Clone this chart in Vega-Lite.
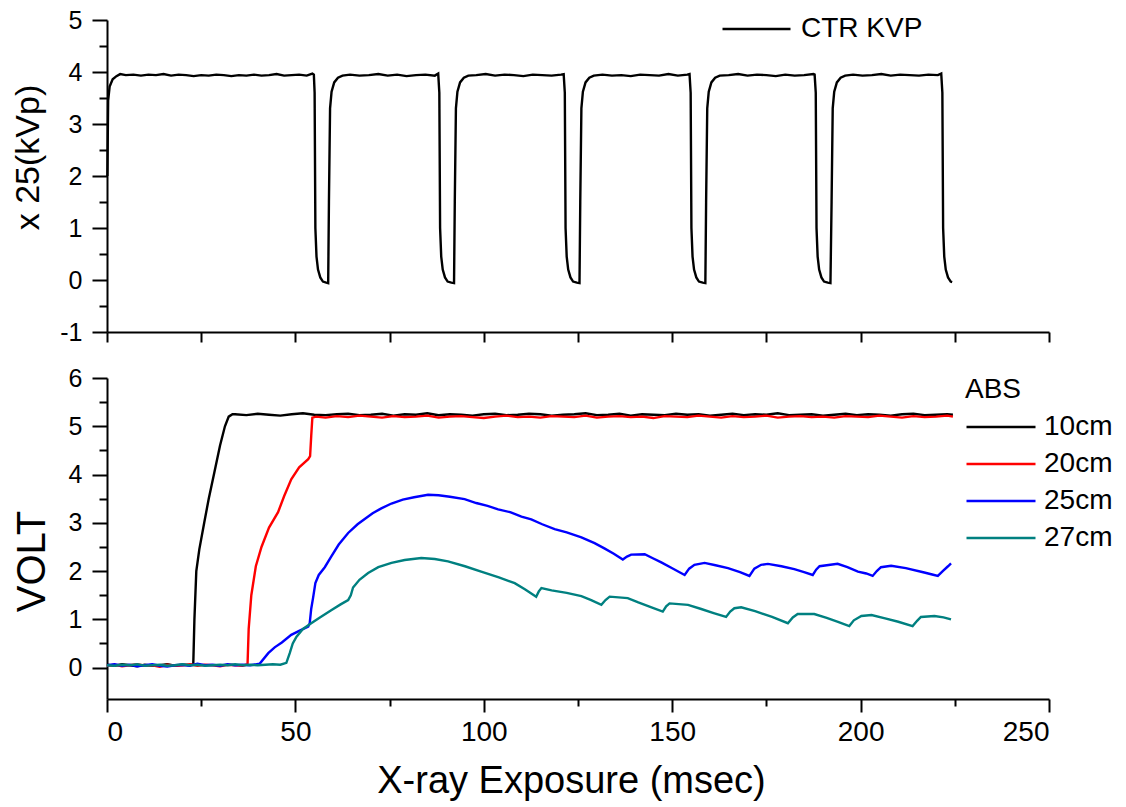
{
"$schema": "https://vega.github.io/schema/vega-lite/v6.json",
"background": "white",
"padding": {"left": 10, "top": 8, "right": 5, "bottom": 5},
"spacing": 46,
"bounds": "flush",
"config": {"view": {"stroke": null}, "font": "Liberation Sans",
 "axis": {"grid": false, "domainColor": "black", "domainWidth": 2, "tickColor": "black", "tickWidth": 2, "labelColor": "black", "labelFont": "Liberation Sans", "titleFont": "Liberation Sans", "titleFontWeight": "normal", "titleColor": "black"},
 "legend": {"labelFont": "Liberation Sans", "titleFont": "Liberation Sans", "labelColor": "black", "titleColor": "black", "titleFontWeight": "normal"}},
"resolve": {"scale": {"color": "independent"}, "legend": {"color": "independent"}},
"datasets": {
"kvp": [
{"t":0.1,"v":2.0},{"t":0.3,"v":3.45},{"t":0.7,"v":3.72},{"t":1.5,"v":3.86},{"t":2.5,"v":3.92},{"t":3.5,"v":3.96},{"t":5,"v":3.94},{"t":7,"v":3.95},{"t":9,"v":3.93},{"t":11,"v":3.95},{"t":13,"v":3.94},{"t":15,"v":3.96},{"t":17,"v":3.93},{"t":19,"v":3.95},{"t":21,"v":3.94},{"t":23,"v":3.92},{"t":25,"v":3.94},{"t":27,"v":3.93},{"t":29,"v":3.95},{"t":31,"v":3.94},{"t":33,"v":3.92},{"t":35,"v":3.94},{"t":37,"v":3.93},{"t":39,"v":3.95},{"t":41,"v":3.93},{"t":43,"v":3.94},{"t":45,"v":3.96},{"t":47,"v":3.93},{"t":49,"v":3.94},{"t":51,"v":3.95},{"t":53,"v":3.93},{"t":54.5,"v":3.97},{"t":54.9,"v":3.95},
{"t":55.1,"v":3.6},{"t":55.3,"v":1.0},{"t":55.6,"v":0.45},{"t":56.0,"v":0.2},{"t":56.6,"v":0.05},{"t":57.3,"v":-0.03},{"t":58.2,"v":-0.05},{"t":58.7,"v":-0.06},
{"t":58.9,"v":1.5},{"t":59.2,"v":3.3},{"t":59.6,"v":3.62},{"t":60.3,"v":3.8},{"t":61.3,"v":3.89},{"t":62.5,"v":3.93},
{"t":64.5,"v":3.95},{"t":67,"v":3.93},{"t":69.5,"v":3.94},{"t":72,"v":3.96},{"t":74.5,"v":3.93},{"t":77,"v":3.95},{"t":79.5,"v":3.92},{"t":82,"v":3.94},{"t":84.5,"v":3.95},{"t":87,"v":3.93},{"t":87.9,"v":3.97},
{"t":88.2,"v":3.6},{"t":88.4,"v":1.0},{"t":88.7,"v":0.45},{"t":89.1,"v":0.2},{"t":89.7,"v":0.05},{"t":90.4,"v":-0.03},{"t":91.4,"v":-0.05},{"t":92.1,"v":-0.06},
{"t":92.3,"v":1.5},{"t":92.6,"v":3.3},{"t":93.0,"v":3.62},{"t":93.7,"v":3.8},{"t":94.7,"v":3.89},{"t":95.9,"v":3.93},
{"t":98,"v":3.94},{"t":100.5,"v":3.96},{"t":103,"v":3.93},{"t":105.5,"v":3.95},{"t":108,"v":3.94},{"t":110.5,"v":3.92},{"t":113,"v":3.95},{"t":115.5,"v":3.94},{"t":118,"v":3.93},{"t":120.5,"v":3.95},{"t":121.2,"v":3.96},
{"t":121.5,"v":3.6},{"t":121.7,"v":1.0},{"t":122.0,"v":0.45},{"t":122.4,"v":0.2},{"t":123.0,"v":0.05},{"t":123.7,"v":-0.03},{"t":124.7,"v":-0.05},{"t":125.4,"v":-0.06},
{"t":125.6,"v":1.5},{"t":125.9,"v":3.3},{"t":126.3,"v":3.62},{"t":127.0,"v":3.8},{"t":128.0,"v":3.89},{"t":129.2,"v":3.93},
{"t":131.5,"v":3.95},{"t":134,"v":3.93},{"t":136.5,"v":3.94},{"t":139,"v":3.92},{"t":141.5,"v":3.95},{"t":144,"v":3.94},{"t":146.5,"v":3.93},{"t":149,"v":3.96},{"t":151.5,"v":3.93},{"t":154,"v":3.95},{"t":154.6,"v":3.96},
{"t":154.9,"v":3.6},{"t":155.1,"v":1.0},{"t":155.4,"v":0.45},{"t":155.8,"v":0.2},{"t":156.4,"v":0.05},{"t":157.1,"v":-0.03},{"t":158.1,"v":-0.05},{"t":158.8,"v":-0.06},
{"t":159.0,"v":1.5},{"t":159.3,"v":3.3},{"t":159.7,"v":3.62},{"t":160.4,"v":3.8},{"t":161.4,"v":3.89},{"t":162.6,"v":3.93},
{"t":165,"v":3.94},{"t":167.5,"v":3.96},{"t":170,"v":3.93},{"t":172.5,"v":3.95},{"t":175,"v":3.94},{"t":177.5,"v":3.92},{"t":180,"v":3.95},{"t":182.5,"v":3.93},{"t":185,"v":3.94},{"t":187.5,"v":3.96},{"t":187.8,"v":3.95},
{"t":188.1,"v":3.6},{"t":188.3,"v":1.0},{"t":188.6,"v":0.45},{"t":189.0,"v":0.2},{"t":189.6,"v":0.05},{"t":190.3,"v":-0.03},{"t":191.3,"v":-0.05},{"t":192.0,"v":-0.06},
{"t":192.3,"v":1.5},{"t":192.6,"v":3.3},{"t":193.0,"v":3.62},{"t":193.7,"v":3.8},{"t":194.7,"v":3.89},{"t":195.9,"v":3.93},
{"t":198,"v":3.95},{"t":200.5,"v":3.93},{"t":203,"v":3.94},{"t":205.5,"v":3.96},{"t":208,"v":3.93},{"t":210.5,"v":3.95},{"t":213,"v":3.94},{"t":215.5,"v":3.93},{"t":218,"v":3.95},{"t":220.5,"v":3.94},{"t":221.4,"v":3.97},
{"t":221.7,"v":3.6},{"t":221.9,"v":1.0},{"t":222.2,"v":0.45},{"t":222.6,"v":0.2},{"t":223.2,"v":0.05},{"t":223.9,"v":-0.03},{"t":224.3,"v":-0.04}
],
"volt": [
{"c":"10cm","t":0,"v":0.06},{"c":"10cm","t":2,"v":0.04},{"c":"10cm","t":4,"v":0.07},{"c":"10cm","t":6,"v":0.05},{"c":"10cm","t":8,"v":0.03},{"c":"10cm","t":10,"v":0.06},{"c":"10cm","t":12,"v":0.04},{"c":"10cm","t":14,"v":0.05},{"c":"10cm","t":16,"v":0.07},{"c":"10cm","t":18,"v":0.04},{"c":"10cm","t":20,"v":0.06},{"c":"10cm","t":22,"v":0.05},{"c":"10cm","t":22.9,"v":0.08},{"c":"10cm","t":23.2,"v":1.0},{"c":"10cm","t":23.7,"v":2.0},{"c":"10cm","t":24.5,"v":2.45},{"c":"10cm","t":25.8,"v":3.0},{"c":"10cm","t":27.0,"v":3.5},{"c":"10cm","t":28.5,"v":4.05},{"c":"10cm","t":30.0,"v":4.6},{"c":"10cm","t":31.3,"v":5.0},{"c":"10cm","t":32.3,"v":5.2},{"c":"10cm","t":33.3,"v":5.25},
{"c":"10cm","t":34,"v":5.25},{"c":"10cm","t":37,"v":5.23},{"c":"10cm","t":40,"v":5.26},{"c":"10cm","t":43,"v":5.24},{"c":"10cm","t":46,"v":5.22},{"c":"10cm","t":49,"v":5.25},{"c":"10cm","t":52,"v":5.27},{"c":"10cm","t":55,"v":5.24},{"c":"10cm","t":58,"v":5.23},{"c":"10cm","t":61,"v":5.25},{"c":"10cm","t":64,"v":5.26},{"c":"10cm","t":67,"v":5.23},{"c":"10cm","t":70,"v":5.24},{"c":"10cm","t":73,"v":5.26},{"c":"10cm","t":76,"v":5.22},{"c":"10cm","t":79,"v":5.25},{"c":"10cm","t":82,"v":5.24},{"c":"10cm","t":85,"v":5.27},{"c":"10cm","t":88,"v":5.23},{"c":"10cm","t":91,"v":5.25},{"c":"10cm","t":94,"v":5.24},{"c":"10cm","t":97,"v":5.22},{"c":"10cm","t":100,"v":5.25},{"c":"10cm","t":103,"v":5.26},{"c":"10cm","t":106,"v":5.23},{"c":"10cm","t":109,"v":5.24},{"c":"10cm","t":112,"v":5.26},{"c":"10cm","t":115,"v":5.25},{"c":"10cm","t":118,"v":5.22},{"c":"10cm","t":121,"v":5.24},{"c":"10cm","t":124,"v":5.25},{"c":"10cm","t":127,"v":5.27},{"c":"10cm","t":130,"v":5.23},{"c":"10cm","t":133,"v":5.24},{"c":"10cm","t":136,"v":5.26},{"c":"10cm","t":139,"v":5.22},{"c":"10cm","t":142,"v":5.25},{"c":"10cm","t":145,"v":5.24},{"c":"10cm","t":148,"v":5.23},{"c":"10cm","t":151,"v":5.26},{"c":"10cm","t":154,"v":5.24},{"c":"10cm","t":157,"v":5.25},{"c":"10cm","t":160,"v":5.22},{"c":"10cm","t":163,"v":5.24},{"c":"10cm","t":166,"v":5.26},{"c":"10cm","t":169,"v":5.23},{"c":"10cm","t":172,"v":5.25},{"c":"10cm","t":175,"v":5.24},{"c":"10cm","t":178,"v":5.27},{"c":"10cm","t":181,"v":5.23},{"c":"10cm","t":184,"v":5.24},{"c":"10cm","t":187,"v":5.25},{"c":"10cm","t":190,"v":5.22},{"c":"10cm","t":193,"v":5.24},{"c":"10cm","t":196,"v":5.26},{"c":"10cm","t":199,"v":5.23},{"c":"10cm","t":202,"v":5.25},{"c":"10cm","t":205,"v":5.24},{"c":"10cm","t":208,"v":5.22},{"c":"10cm","t":211,"v":5.25},{"c":"10cm","t":214,"v":5.26},{"c":"10cm","t":217,"v":5.23},{"c":"10cm","t":220,"v":5.24},{"c":"10cm","t":223,"v":5.25},{"c":"10cm","t":224.5,"v":5.24},
{"c":"20cm","t":0,"v":0.04},{"c":"20cm","t":2,"v":0.06},{"c":"20cm","t":4,"v":0.03},{"c":"20cm","t":6,"v":0.05},{"c":"20cm","t":8,"v":0.07},{"c":"20cm","t":10,"v":0.04},{"c":"20cm","t":12,"v":0.05},{"c":"20cm","t":14,"v":0.02},{"c":"20cm","t":16,"v":0.06},{"c":"20cm","t":18,"v":0.04},{"c":"20cm","t":20,"v":0.05},{"c":"20cm","t":22,"v":0.07},{"c":"20cm","t":24,"v":0.04},{"c":"20cm","t":26,"v":0.06},{"c":"20cm","t":28,"v":0.05},{"c":"20cm","t":30,"v":0.03},{"c":"20cm","t":32,"v":0.06},{"c":"20cm","t":34,"v":0.05},{"c":"20cm","t":36,"v":0.04},{"c":"20cm","t":37.3,"v":0.07},{"c":"20cm","t":37.6,"v":0.8},{"c":"20cm","t":38.3,"v":1.5},{"c":"20cm","t":39.5,"v":2.1},{"c":"20cm","t":41.0,"v":2.5},{"c":"20cm","t":43.0,"v":2.9},{"c":"20cm","t":45.4,"v":3.22},{"c":"20cm","t":47.0,"v":3.55},{"c":"20cm","t":48.9,"v":3.9},{"c":"20cm","t":51.0,"v":4.15},{"c":"20cm","t":53.4,"v":4.32},{"c":"20cm","t":53.9,"v":4.38},{"c":"20cm","t":54.2,"v":4.8},{"c":"20cm","t":54.5,"v":5.18},
{"c":"20cm","t":55.5,"v":5.2},{"c":"20cm","t":58,"v":5.18},{"c":"20cm","t":61,"v":5.21},{"c":"20cm","t":64,"v":5.19},{"c":"20cm","t":67,"v":5.22},{"c":"20cm","t":70,"v":5.2},{"c":"20cm","t":73,"v":5.18},{"c":"20cm","t":76,"v":5.21},{"c":"20cm","t":79,"v":5.19},{"c":"20cm","t":82,"v":5.2},{"c":"20cm","t":85,"v":5.22},{"c":"20cm","t":88,"v":5.18},{"c":"20cm","t":91,"v":5.2},{"c":"20cm","t":94,"v":5.21},{"c":"20cm","t":97,"v":5.19},{"c":"20cm","t":100,"v":5.17},{"c":"20cm","t":103,"v":5.2},{"c":"20cm","t":106,"v":5.22},{"c":"20cm","t":109,"v":5.19},{"c":"20cm","t":112,"v":5.2},{"c":"20cm","t":115,"v":5.18},{"c":"20cm","t":118,"v":5.21},{"c":"20cm","t":121,"v":5.2},{"c":"20cm","t":124,"v":5.19},{"c":"20cm","t":127,"v":5.22},{"c":"20cm","t":130,"v":5.18},{"c":"20cm","t":133,"v":5.2},{"c":"20cm","t":136,"v":5.21},{"c":"20cm","t":139,"v":5.19},{"c":"20cm","t":142,"v":5.2},{"c":"20cm","t":145,"v":5.17},{"c":"20cm","t":148,"v":5.21},{"c":"20cm","t":151,"v":5.2},{"c":"20cm","t":154,"v":5.19},{"c":"20cm","t":157,"v":5.22},{"c":"20cm","t":160,"v":5.2},{"c":"20cm","t":163,"v":5.18},{"c":"20cm","t":166,"v":5.21},{"c":"20cm","t":169,"v":5.19},{"c":"20cm","t":172,"v":5.2},{"c":"20cm","t":175,"v":5.22},{"c":"20cm","t":178,"v":5.18},{"c":"20cm","t":181,"v":5.2},{"c":"20cm","t":184,"v":5.21},{"c":"20cm","t":187,"v":5.19},{"c":"20cm","t":190,"v":5.2},{"c":"20cm","t":193,"v":5.18},{"c":"20cm","t":196,"v":5.21},{"c":"20cm","t":199,"v":5.2},{"c":"20cm","t":202,"v":5.19},{"c":"20cm","t":205,"v":5.22},{"c":"20cm","t":208,"v":5.2},{"c":"20cm","t":211,"v":5.18},{"c":"20cm","t":214,"v":5.21},{"c":"20cm","t":217,"v":5.19},{"c":"20cm","t":220,"v":5.2},{"c":"20cm","t":223,"v":5.22},{"c":"20cm","t":224.5,"v":5.2},
{"c":"25cm","t":0,"v":0.05},{"c":"25cm","t":2,"v":0.07},{"c":"25cm","t":4,"v":0.04},{"c":"25cm","t":6,"v":0.06},{"c":"25cm","t":8,"v":0.03},{"c":"25cm","t":10,"v":0.05},{"c":"25cm","t":12,"v":0.07},{"c":"25cm","t":14,"v":0.04},{"c":"25cm","t":16,"v":0.02},{"c":"25cm","t":18,"v":0.05},{"c":"25cm","t":20,"v":0.06},{"c":"25cm","t":22,"v":0.04},{"c":"25cm","t":24,"v":0.08},{"c":"25cm","t":26,"v":0.05},{"c":"25cm","t":28,"v":0.06},{"c":"25cm","t":30,"v":0.04},{"c":"25cm","t":32,"v":0.07},{"c":"25cm","t":34,"v":0.05},{"c":"25cm","t":36,"v":0.06},{"c":"25cm","t":38,"v":0.05},{"c":"25cm","t":40.5,"v":0.08},{"c":"25cm","t":42.8,"v":0.3},{"c":"25cm","t":44.5,"v":0.42},{"c":"25cm","t":46.4,"v":0.52},{"c":"25cm","t":48.9,"v":0.68},{"c":"25cm","t":51,"v":0.76},{"c":"25cm","t":53.4,"v":0.85},{"c":"25cm","t":53.8,"v":0.92},{"c":"25cm","t":54.2,"v":1.22},{"c":"25cm","t":54.7,"v":1.45},{"c":"25cm","t":55.3,"v":1.75},{"c":"25cm","t":56.2,"v":1.92},{"c":"25cm","t":57.8,"v":2.08},{"c":"25cm","t":59.5,"v":2.3},{"c":"25cm","t":61.5,"v":2.55},{"c":"25cm","t":64.0,"v":2.79},{"c":"25cm","t":66.5,"v":2.97},{"c":"25cm","t":68.4,"v":3.08},{"c":"25cm","t":70.5,"v":3.2},{"c":"25cm","t":72.8,"v":3.3},{"c":"25cm","t":75.5,"v":3.4},{"c":"25cm","t":78.5,"v":3.48},{"c":"25cm","t":81.5,"v":3.53},{"c":"25cm","t":85.2,"v":3.58},{"c":"25cm","t":88,"v":3.57},{"c":"25cm","t":91,"v":3.54},{"c":"25cm","t":94.9,"v":3.49},{"c":"25cm","t":98,"v":3.41},{"c":"25cm","t":101,"v":3.35},{"c":"25cm","t":103.8,"v":3.28},{"c":"25cm","t":107,"v":3.22},{"c":"25cm","t":110,"v":3.13},{"c":"25cm","t":112.6,"v":3.07},{"c":"25cm","t":115.5,"v":2.97},{"c":"25cm","t":118.8,"v":2.87},{"c":"25cm","t":122,"v":2.8},{"c":"25cm","t":125.9,"v":2.7},{"c":"25cm","t":129.4,"v":2.58},{"c":"25cm","t":132,"v":2.47},{"c":"25cm","t":134.5,"v":2.36},{"c":"25cm","t":136.9,"v":2.24},{"c":"25cm","t":138,"v":2.3},{"c":"25cm","t":139.1,"v":2.34},{"c":"25cm","t":142.7,"v":2.35},{"c":"25cm","t":145,"v":2.26},{"c":"25cm","t":147.1,"v":2.18},{"c":"25cm","t":150,"v":2.06},{"c":"25cm","t":153.3,"v":1.92},{"c":"25cm","t":154.5,"v":2.05},{"c":"25cm","t":155.9,"v":2.13},{"c":"25cm","t":158.6,"v":2.17},{"c":"25cm","t":161.5,"v":2.12},{"c":"25cm","t":164.8,"v":2.06},{"c":"25cm","t":168,"v":1.98},{"c":"25cm","t":170.5,"v":1.9},{"c":"25cm","t":171.8,"v":2.05},{"c":"25cm","t":173.6,"v":2.13},{"c":"25cm","t":175.4,"v":2.15},{"c":"25cm","t":179,"v":2.1},{"c":"25cm","t":182.4,"v":2.04},{"c":"25cm","t":185,"v":1.98},{"c":"25cm","t":187.3,"v":1.92},{"c":"25cm","t":188.2,"v":2.03},{"c":"25cm","t":189.1,"v":2.1},{"c":"25cm","t":193.9,"v":2.15},{"c":"25cm","t":196.5,"v":2.08},{"c":"25cm","t":199.3,"v":1.99},{"c":"25cm","t":201.5,"v":1.95},{"c":"25cm","t":203.2,"v":1.9},{"c":"25cm","t":204.3,"v":2.0},{"c":"25cm","t":205.4,"v":2.08},{"c":"25cm","t":208.1,"v":2.11},{"c":"25cm","t":212,"v":2.06},{"c":"25cm","t":216.9,"v":1.97},{"c":"25cm","t":219,"v":1.93},{"c":"25cm","t":220.5,"v":1.9},{"c":"25cm","t":221.8,"v":2.0},{"c":"25cm","t":223.2,"v":2.1},{"c":"25cm","t":224.0,"v":2.16},
{"c":"27cm","t":0,"v":0.05},{"c":"27cm","t":2,"v":0.04},{"c":"27cm","t":4,"v":0.06},{"c":"27cm","t":6,"v":0.05},{"c":"27cm","t":8,"v":0.07},{"c":"27cm","t":10,"v":0.04},{"c":"27cm","t":12,"v":0.05},{"c":"27cm","t":14,"v":0.06},{"c":"27cm","t":16,"v":0.04},{"c":"27cm","t":18,"v":0.05},{"c":"27cm","t":20,"v":0.07},{"c":"27cm","t":22,"v":0.05},{"c":"27cm","t":24,"v":0.06},{"c":"27cm","t":26,"v":0.04},{"c":"27cm","t":28,"v":0.05},{"c":"27cm","t":30,"v":0.06},{"c":"27cm","t":32,"v":0.05},{"c":"27cm","t":34,"v":0.07},{"c":"27cm","t":36,"v":0.05},{"c":"27cm","t":38,"v":0.06},{"c":"27cm","t":40,"v":0.05},{"c":"27cm","t":42,"v":0.06},{"c":"27cm","t":44,"v":0.07},{"c":"27cm","t":46,"v":0.06},{"c":"27cm","t":47.6,"v":0.1},{"c":"27cm","t":48.5,"v":0.3},{"c":"27cm","t":49.3,"v":0.5},{"c":"27cm","t":50.3,"v":0.64},{"c":"27cm","t":52,"v":0.8},{"c":"27cm","t":54.2,"v":0.92},{"c":"27cm","t":56.5,"v":1.04},{"c":"27cm","t":59.5,"v":1.19},{"c":"27cm","t":62,"v":1.31},{"c":"27cm","t":64.0,"v":1.4},{"c":"27cm","t":64.7,"v":1.5},{"c":"27cm","t":65.3,"v":1.66},{"c":"27cm","t":67,"v":1.82},{"c":"27cm","t":69.3,"v":1.96},{"c":"27cm","t":72,"v":2.08},{"c":"27cm","t":75.5,"v":2.17},{"c":"27cm","t":79,"v":2.23},{"c":"27cm","t":83.4,"v":2.27},{"c":"27cm","t":87,"v":2.25},{"c":"27cm","t":90.5,"v":2.2},{"c":"27cm","t":95,"v":2.1},{"c":"27cm","t":99.3,"v":1.99},{"c":"27cm","t":104,"v":1.87},{"c":"27cm","t":108.2,"v":1.75},{"c":"27cm","t":111,"v":1.62},{"c":"27cm","t":113.9,"v":1.47},{"c":"27cm","t":114.6,"v":1.58},{"c":"27cm","t":115.3,"v":1.65},{"c":"27cm","t":118,"v":1.6},{"c":"27cm","t":122,"v":1.55},{"c":"27cm","t":125.9,"v":1.48},{"c":"27cm","t":128.5,"v":1.4},{"c":"27cm","t":131.2,"v":1.3},{"c":"27cm","t":132.3,"v":1.4},{"c":"27cm","t":133.4,"v":1.47},{"c":"27cm","t":138.2,"v":1.44},{"c":"27cm","t":141,"v":1.35},{"c":"27cm","t":144.5,"v":1.25},{"c":"27cm","t":147.5,"v":1.16},{"c":"27cm","t":148.4,"v":1.27},{"c":"27cm","t":149.3,"v":1.33},{"c":"27cm","t":154.2,"v":1.3},{"c":"27cm","t":157.5,"v":1.22},{"c":"27cm","t":161,"v":1.13},{"c":"27cm","t":164.3,"v":1.05},{"c":"27cm","t":165.4,"v":1.16},{"c":"27cm","t":166.5,"v":1.23},{"c":"27cm","t":168.3,"v":1.25},{"c":"27cm","t":172,"v":1.17},{"c":"27cm","t":176.5,"v":1.05},{"c":"27cm","t":180.7,"v":0.92},{"c":"27cm","t":182,"v":1.04},{"c":"27cm","t":183.3,"v":1.11},{"c":"27cm","t":187.7,"v":1.11},{"c":"27cm","t":191,"v":1.03},{"c":"27cm","t":194,"v":0.95},{"c":"27cm","t":197.0,"v":0.86},{"c":"27cm","t":198.2,"v":0.98},{"c":"27cm","t":200.2,"v":1.07},{"c":"27cm","t":202.9,"v":1.09},{"c":"27cm","t":206.5,"v":1.02},{"c":"27cm","t":210,"v":0.95},{"c":"27cm","t":213.8,"v":0.86},{"c":"27cm","t":215,"v":0.97},{"c":"27cm","t":216.0,"v":1.05},{"c":"27cm","t":219.6,"v":1.07},{"c":"27cm","t":222,"v":1.04},{"c":"27cm","t":224.0,"v":1.0}
]
},
"vconcat": [
{
 "width": 942, "height": 312,
 "data": {"name": "kvp"},
 "transform": [{"calculate": "'CTR KVP'", "as": "s"}],
 "mark": {"type": "line", "strokeWidth": 2.4},
 "encoding": {
  "x": {"field": "t", "type": "quantitative", "scale": {"domain": [0, 250], "nice": false},
   "axis": {"values": [0,25,50,75,100,125,150,175,200,225,250], "labels": false, "title": null, "tickSize": 10}},
  "y": {"field": "v", "type": "quantitative", "scale": {"domain": [-1, 5], "nice": false, "zero": false},
   "axis": {"values": [-1,-0.5,0,0.5,1,1.5,2,2.5,3,3.5,4,4.5,5], "labelExpr": "datum.value % 1 === 0 ? '' + datum.value : ''",
    "tickSize": {"condition": {"test": "datum.value % 1 === 0", "value": 15}, "value": 8}, "labelFontSize": 25, "labelPadding": 10,
    "title": "x 25(kVp)", "titleFontSize": 34, "titleX": -69, "titleY": 137, "titleBaseline": "alphabetic"}},
  "color": {"field": "s", "type": "nominal", "scale": {"range": ["#000000"]},
   "legend": {"title": null, "orient": "none", "legendX": 614, "legendY": -6, "symbolType": "stroke", "symbolSize": 4624, "symbolStrokeWidth": 2.4, "labelFontSize": 28, "labelOffset": 9, "padding": 0, "clipHeight": 30}}
 }
},
{
 "width": 942, "height": 321,
 "data": {"name": "volt"},
 "mark": {"type": "line", "strokeWidth": 2.4},
 "encoding": {
  "x": {"field": "t", "type": "quantitative", "scale": {"domain": [0, 250], "nice": false},
   "axis": {"values": [0,25,50,75,100,125,150,175,200,225,250], "labelExpr": "datum.value % 50 === 0 ? datum.label : ''",
    "tickSize": {"condition": {"test": "datum.value % 50 === 0", "value": 13}, "value": 7}, "labelFontSize": 28, "labelPadding": 6,
    "title": "X-ray Exposure (msec)", "titleFontSize": 38, "titleX": 464, "titleY": 93, "titleBaseline": "alphabetic"}},
  "y": {"field": "v", "type": "quantitative", "scale": {"domain": [-0.65, 6], "nice": false, "zero": false},
   "axis": {"values": [0,0.5,1,1.5,2,2.5,3,3.5,4,4.5,5,5.5,6], "labelExpr": "datum.value % 1 === 0 ? '' + datum.value : ''",
    "tickSize": {"condition": {"test": "datum.value % 1 === 0", "value": 15}, "value": 8}, "labelFontSize": 25, "labelPadding": 10,
    "title": "VOLT", "titleFontSize": 40, "titleX": -63, "titleY": 183, "titleBaseline": "alphabetic"}},
  "color": {"field": "c", "type": "nominal", "scale": {"domain": ["10cm","20cm","25cm","27cm"], "range": ["#000000","#ff0000","#0000ff","#008080"]},
   "legend": {"title": "ABS", "titleFontSize": 28, "titlePadding": 8, "orient": "none", "legendX": 858, "legendY": -2, "symbolType": "stroke", "symbolSize": 4761, "symbolStrokeWidth": 2.4, "labelFontSize": 28, "labelOffset": 7, "padding": 0, "clipHeight": 30, "rowPadding": 7}}
 }
}
]
}
